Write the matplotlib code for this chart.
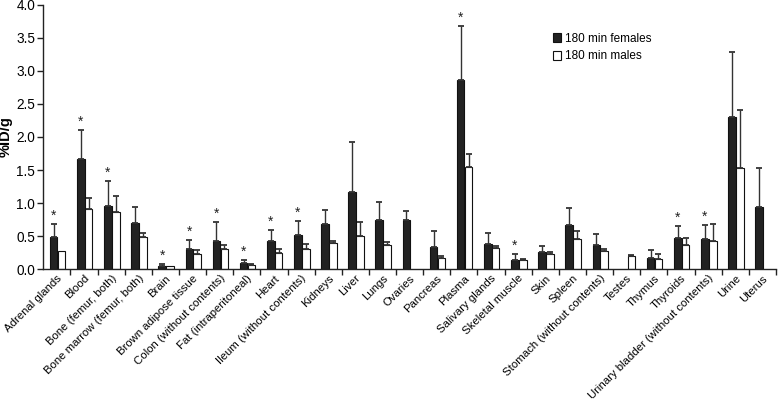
import matplotlib
matplotlib.use("Agg")
import matplotlib.pyplot as plt
import numpy as np
from matplotlib.ticker import FixedLocator, MultipleLocator

plt.rcParams['font.family'] = ['Liberation Sans', 'DejaVu Sans']

categories = ["Adrenal glands", "Blood", "Bone (femur, both)", "Bone marrow (femur, both)",
              "Brain", "Brown adipose tissue", "Colon (without contents)", "Fat (intraperitoneal)",
              "Heart", "Ileum (without contents)", "Kidneys", "Liver", "Lungs", "Ovaries",
              "Pancreas", "Plasma", "Salivary glands", "Skeletal muscle", "Skin", "Spleen",
              "Stomach (without contents)", "Testes", "Thymus", "Thyroids",
              "Urinary bladder (without contents)", "Urine", "Uterus"]

females = [0.49, 1.67, 0.96, 0.70, 0.05, 0.31, 0.42, 0.09, 0.43, 0.52, 0.68, 1.17, 0.75, 0.74,
           0.34, 2.86, 0.38, 0.14, 0.26, 0.66, 0.37, np.nan, 0.17, 0.47, 0.46, 2.31, 0.94]
females_err = [0.19, 0.43, 0.37, 0.24, 0.02, 0.13, 0.29, 0.05, 0.16, 0.21, 0.21, 0.76, 0.27, 0.14,
               0.24, 0.82, 0.17, 0.08, 0.09, 0.26, 0.16, np.nan, 0.12, 0.18, 0.20, 0.98, 0.59]
males = [0.28, 0.91, 0.86, 0.49, 0.04, 0.22, 0.30, 0.06, 0.25, 0.31, 0.39, 0.50, 0.37, np.nan,
         0.17, 1.55, 0.32, 0.13, 0.22, 0.46, 0.27, 0.20, 0.15, 0.37, 0.42, 1.53, np.nan]
males_err = [0.0, 0.16, 0.25, 0.06, 0.0, 0.07, 0.07, 0.01, 0.05, 0.07, 0.03, 0.21, 0.04, np.nan,
             0.03, 0.20, 0.03, 0.02, 0.04, 0.12, 0.04, 0.01, 0.07, 0.10, 0.26, 0.88, np.nan]
significant = [True, True, True, False, True, True, True, True, True, True, False, False, False,
               False, False, True, False, True, False, False, False, False, False, True, True,
               False, False]

fig = plt.figure(figsize=(7.78, 4.03), dpi=100)
ax = fig.add_axes([0.0557, 0.3325, 0.9417, 0.6551])

x = np.arange(len(categories))
w = 0.28
xf = x - 0.12
xm = x + 0.17
f = np.array(females, dtype=float)
fe = np.array(females_err, dtype=float)
m = np.array(males, dtype=float)
me = np.array(males_err, dtype=float)

ax.bar(xf, f, width=w, color='#222222', edgecolor='#111111', linewidth=0.8,
       label='180 min females', zorder=2)
ax.bar(xm, m, width=w, color='white', edgecolor='#111111', linewidth=0.8,
       label='180 min males', zorder=2)

ok = ~np.isnan(f)
ax.errorbar(xf[ok], f[ok], yerr=[np.zeros(ok.sum()), fe[ok]], fmt='none',
            ecolor='#333333', elinewidth=1.0, capsize=2.5, capthick=1.3, zorder=3)
okm = ~np.isnan(m) & (me > 0)
ax.errorbar(xm[okm], m[okm], yerr=[np.zeros(okm.sum()), me[okm]], fmt='none',
            ecolor='#333333', elinewidth=1.0, capsize=2.5, capthick=1.3, zorder=3)

for i, s in enumerate(significant):
    if s:
        ax.annotate('*', (xf[i], f[i] + fe[i]), xytext=(0, 1), textcoords='offset points',
                    ha='center', va='bottom', fontsize=10, color='#222222')

ax.set_xlim(-0.5, len(categories) - 0.5)
ax.set_ylim(0, 4.0)
ax.yaxis.set_major_locator(MultipleLocator(0.5))
ax.set_yticklabels([f"{v:.1f}" for v in ax.get_yticks()])
ax.set_xticks(x)
ax.set_xticklabels(categories, rotation=45, ha='right', va='top', rotation_mode='anchor',
                   fontsize=8.2)
ax.xaxis.set_minor_locator(FixedLocator(np.arange(len(categories)) + 0.5))
ax.tick_params(axis='x', which='major', length=0, pad=3)
ax.tick_params(axis='x', which='minor', length=4, width=1, direction='out', color='#222222')
ax.tick_params(axis='y', length=4, width=1, direction='out', labelsize=9.8, pad=2,
               color='#222222')

for sp in ['top', 'right']:
    ax.spines[sp].set_visible(False)
for sp in ['left', 'bottom']:
    ax.spines[sp].set_linewidth(1.0)
    ax.spines[sp].set_color('#222222')

ax.set_ylabel('%ID/g', fontsize=10.5, fontweight='bold')
ax.yaxis.set_label_coords(-0.042, 0.5)

ax.legend(loc='upper left', bbox_to_anchor=(0.7045, 0.93), bbox_transform=fig.transFigure,
          frameon=False, fontsize=8.5, handlelength=0.7, handleheight=0.8, handletextpad=0.35,
          labelspacing=0.45, borderaxespad=0)

fig.savefig('out.png', dpi=100)
